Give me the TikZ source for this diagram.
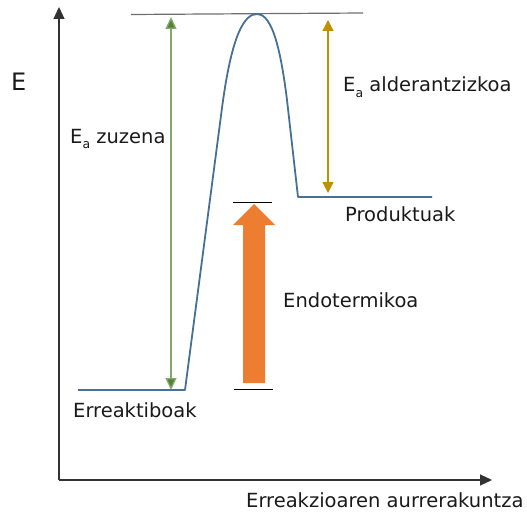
\documentclass[tikz,border=0pt]{standalone}
\usepackage{fontspec}
\setmainfont{DejaVu Sans}
\usetikzlibrary{arrows.meta}
\definecolor{txt}{RGB}{26,26,26}
\definecolor{curveblue}{RGB}{70,112,152}
\definecolor{greenhead}{RGB}{84,130,53}
\definecolor{greenline}{RGB}{130,170,105}
\definecolor{gold}{RGB}{191,144,0}
\definecolor{orangefill}{RGB}{237,125,49}
\definecolor{axisgray}{RGB}{50,50,50}
\definecolor{topgray}{RGB}{110,110,110}
\newcommand{\Ea}{E\raisebox{-0.28em}{\fontsize{12.5}{12.5}\selectfont a}}
\tikzset{
  lbl/.style={anchor=base west, inner sep=0pt, text=txt, font=\fontsize{19.5}{21}\selectfont},
  axisline/.style={draw=axisgray, line width=1.1pt, -{Triangle[width=11pt,length=12pt]}},
  energyline/.style={draw=curveblue, line width=1.8pt, line join=round},
  greenarrow/.style={draw=greenline, line width=1.3pt, {Triangle[width=11pt,length=12pt,fill=greenhead]}-{Triangle[width=11pt,length=12pt,fill=greenhead]}},
  goldarrow/.style={draw=gold, line width=1.2pt, {Triangle[width=11pt,length=11pt]}-{Triangle[width=11pt,length=11pt]}},
  levelmark/.style={draw=black, line width=1pt},
}
\begin{document}
\begin{tikzpicture}[x=1pt,y=-1pt]
\useasboundingbox (0,0) rectangle (527,511);
% axes
\coordinate (O) at (59,480);
\coordinate (ytop) at (59,7);
\coordinate (xend) at (492,480);
\draw[axisline] (O) -- (ytop);
\draw[axisline] (O) -- (xend);
\node[lbl, font=\fontsize{24}{26}\selectfont] (Elab) at (11,90) {E};
\node[lbl] (xlab) at (246,507) {Erreakzioaren aurrerakuntza};
% top level line
\coordinate (topL) at (131,14.5);
\coordinate (topR) at (363,13);
\draw[draw=topgray, line width=1.2pt] (topL) -- (topR);
% energy curve
\coordinate (r0) at (78,390);
\coordinate (r1) at (185,390);
\coordinate (p0) at (298,197);
\coordinate (p1) at (432,197);
\draw[energyline] (r0) -- (r1) -- (222,108)
  .. controls (232,32) and (245,14) .. (257,14)
  .. controls (269,14) and (279,35) .. (287,100)
  -- (p0) -- (p1);
% green arrow
\coordinate (gTop) at (171,17);
\coordinate (gBot) at (171,390);
\draw[greenarrow] (gTop) -- (gBot);
\node[lbl] (ezuz) at (70,143) {\Ea{} zuzena};
% gold arrow
\coordinate (oTop) at (328,20);
\coordinate (oBot) at (328,193);
\draw[goldarrow] (oTop) -- (oBot);
\node[lbl] (ealder) at (343,92) {\Ea{} alderantzizkoa};
\node[lbl] (prod) at (345,221) {Produktuak};
\node[lbl] (erre) at (73,417) {Erreaktiboak};
% orange block arrow
\fill[orangefill] (243,383) -- (243,225) -- (233,225) -- (254,204) -- (275,225) -- (265,225) -- (265,383) -- cycle;
\coordinate (mTopL) at (233,202);
\coordinate (mTopR) at (272,202);
\coordinate (mBotL) at (234,389);
\coordinate (mBotR) at (273,389);
\draw[levelmark] (mTopL) -- (mTopR);
\draw[levelmark] (mBotL) -- (mBotR);
\node[lbl] (endo) at (283,307) {Endotermikoa};
\end{tikzpicture}
\end{document}
